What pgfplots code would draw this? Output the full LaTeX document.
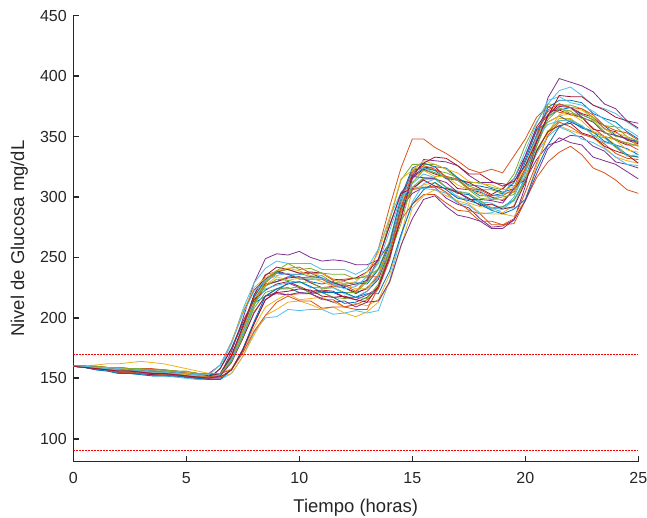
\documentclass[border=0pt]{standalone}
\usepackage{pgfplots}
\usepackage{pgfplotstable}
\pgfplotsset{compat=1.18}
\usepackage{fontspec}
\setmainfont{Liberation Sans}
\definecolor{c1}{rgb}{0,0.447,0.741}
\definecolor{c2}{rgb}{0.85,0.325,0.098}
\definecolor{c3}{rgb}{0.929,0.694,0.125}
\definecolor{c4}{rgb}{0.494,0.184,0.556}
\definecolor{c5}{rgb}{0.466,0.674,0.188}
\definecolor{c6}{rgb}{0.301,0.745,0.933}
\definecolor{c7}{rgb}{0.635,0.078,0.184}
\definecolor{axc}{rgb}{0.15,0.15,0.15}

% one row per simulated patient, one column per time (hours)
\pgfplotstableread{
name 0 0.5 1 1.5 2 2.5 3 3.5 4 4.5 5 5.5 6 6.5 7 7.5 8 8.5 9 9.5 10 10.5 11 11.5 12 12.5 13 13.5 14 14.5 15 15.5 16 16.5 17 17.5 18 18.5 19 19.5 20 20.5 21 21.5 22 22.5 23 23.5 24 24.5 25
T1 160 159 158 157 156 156 155 154 154 153 152 151 150 152 166 188 213 227 230 234 234 230 228 230 225 220 225 234 256 290 306 315 315 308 303 302 295 290 292 297 316 342 367 372 374 368 364 359 351 348 346
T2 160 160 159 159 158 158 157 157 156 156 155 154 153 154 168 191 215 229 237 236 232 232 232 227 227 222 232 257 292 324 348 348 341 336 330 323 320 323 320 334 348 366 375 370 369 366 357 350 348 344 339
T3 160 160 161 162 162 163 164 163 162 160 158 156 154 154 158 172 192 209 215 220 215 216 217 213 209 212 210 215 236 268 306 310 312 303 301 295 292 291 287 293 314 337 354 365 365 358 353 350 343 335 333
T4 160 160 159 158 157 157 156 155 155 154 153 152 151 153 172 199 229 249 253 252 255 250 247 248 247 244 244 248 262 291 303 308 308 299 294 291 282 275 276 281 309 347 382 398 395 392 387 377 373 363 361
T5 160 160 159 159 158 158 157 157 156 155 155 153 153 154 169 192 218 230 238 240 237 234 235 229 230 227 230 241 264 299 323 325 322 320 316 309 306 306 303 304 324 350 366 374 369 368 364 357 350 349 342
T6 160 159 157 156 154 154 153 152 152 151 150 149 149 149 154 168 188 200 201 207 206 207 207 203 204 206 204 206 231 267 296 311 315 308 300 298 296 290 291 291 319 352 377 388 391 384 376 373 369 362 356
T7 160 160 159 158 157 157 156 155 155 155 154 152 151 153 166 188 213 228 230 233 234 229 225 226 225 221 224 236 261 292 316 323 319 316 307 306 304 300 297 305 321 345 368 377 374 369 366 356 354 347 344
T8 160 159 158 157 155 155 154 153 153 152 151 150 150 158 174 195 212 218 224 225 221 220 221 217 212 213 217 226 257 289 317 324 322 315 314 307 301 301 303 312 331 355 362 367 362 358 354 346 343 340 335
T9 160 160 158 158 157 156 156 156 155 154 154 152 151 153 164 183 205 218 221 219 220 220 215 215 209 211 215 224 248 287 306 308 309 304 296 289 286 277 277 278 297 316 329 337 342 335 324 320 314 306 303
T10 160 159 158 158 157 156 156 155 155 154 153 152 151 153 167 190 214 227 234 231 233 233 230 226 228 224 224 236 263 294 315 322 317 317 310 306 303 298 298 305 317 336 355 359 355 352 349 341 333 330 328
T11 160 159 158 157 155 154 154 153 153 152 151 150 150 150 157 174 196 215 222 229 225 221 222 221 217 215 219 225 250 282 315 331 330 329 326 318 312 312 311 309 314 331 343 346 351 350 342 338 329 327 324
T12 160 159 158 157 156 156 155 154 154 154 152 151 150 152 165 188 212 226 232 231 229 230 224 225 221 221 230 247 281 314 327 327 327 323 315 312 312 308 306 319 343 362 377 376 376 373 366 359 358 350 346
T13 160 159 158 157 155 155 154 154 153 152 151 150 150 158 179 207 229 241 247 245 245 245 240 240 240 236 241 257 283 304 311 319 316 308 305 303 296 295 290 297 314 336 350 358 354 348 345 340 333 327 326
T14 160 159 158 157 155 155 154 153 153 153 151 151 150 158 175 197 215 223 228 230 226 222 223 222 217 217 222 232 257 296 322 324 325 316 314 312 307 302 307 315 334 358 371 372 368 366 356 354 347 343 343
T15 160 160 159 159 158 158 157 157 156 156 155 154 153 154 168 192 217 232 238 236 236 237 233 228 228 229 228 240 262 300 324 328 325 324 316 310 309 307 304 307 329 351 374 380 380 378 369 365 362 354 348
T16 160 159 158 157 155 155 154 154 153 152 151 150 150 151 167 192 219 236 238 241 242 237 237 231 232 233 234 234 257 281 294 302 302 295 289 288 280 280 277 282 304 328 351 362 358 352 349 344 336 332 331
T17 160 159 158 157 156 156 155 154 154 153 152 152 151 151 154 168 186 202 207 213 214 211 207 209 204 201 205 213 229 259 291 301 306 301 297 294 287 286 286 284 297 326 353 368 372 372 365 356 353 350 342
T18 160 160 160 159 159 158 158 157 157 156 155 154 154 161 180 204 223 232 239 236 233 234 233 229 226 228 231 249 276 303 317 316 315 312 304 298 298 297 295 307 334 356 368 375 374 366 362 353 351 348 345
T19 160 160 159 158 157 156 156 156 155 155 154 153 152 153 165 185 208 221 224 224 226 220 221 217 216 217 216 228 256 288 308 316 316 308 304 303 297 291 292 298 313 339 354 363 364 359 351 349 341 334 333
T20 160 159 159 158 157 157 156 155 155 154 154 153 152 153 166 187 211 224 227 229 230 225 225 225 220 217 222 234 258 295 321 324 320 317 314 307 305 298 302 315 338 361 380 383 378 376 371 364 358 356 350
T21 160 160 159 159 158 157 157 156 156 155 155 154 152 154 169 193 219 235 242 240 237 238 237 232 231 233 238 248 277 303 307 314 309 307 304 299 293 294 290 292 312 338 354 359 361 353 350 342 338 335 328
T22 160 159 157 156 154 154 153 152 152 152 151 150 149 149 157 174 197 218 224 228 230 226 221 221 221 217 220 220 239 269 294 306 312 306 299 297 294 289 286 290 298 323 343 358 363 357 354 350 342 335 333
T23 160 160 160 159 159 158 158 158 157 156 155 154 154 154 157 171 189 202 213 218 214 214 208 209 209 207 207 225 253 290 320 326 323 317 315 307 306 301 301 307 323 351 372 377 374 373 368 359 355 353 347
T24 160 160 159 159 158 158 157 157 156 156 155 154 153 161 180 205 225 233 239 241 239 235 237 232 228 230 238 254 283 315 322 330 327 323 320 313 311 310 306 308 326 349 362 367 369 363 354 350 347 339 337
T25 160 159 158 157 156 156 155 154 154 153 152 151 150 152 163 183 204 218 220 219 221 220 216 213 214 209 213 214 230 260 282 298 301 292 285 283 280 274 274 281 297 319 340 349 345 343 333 330 327 321 315
T26 160 160 160 159 159 158 158 157 157 156 156 154 154 154 164 184 210 231 239 245 240 241 237 236 236 232 235 240 252 278 312 322 320 316 314 306 299 298 300 302 321 342 364 373 371 365 363 354 347 345 342
T27 160 160 159 159 158 157 157 156 156 155 154 153 153 161 179 203 222 231 235 237 233 233 233 228 224 226 234 245 272 300 308 307 306 303 295 293 286 287 290 300 321 349 360 363 363 359 351 345 343 334 335
T28 160 159 158 157 156 156 155 154 154 153 152 151 151 151 157 173 195 215 221 222 224 223 218 217 218 215 213 226 251 283 318 328 333 332 326 319 319 313 309 313 326 346 367 384 383 383 376 372 366 363 357
}\raw
\pgfplotstabletranspose[colnames from=name]\data\raw

\begin{document}
\begin{tikzpicture}
\begin{axis}[
  at={(0,0)}, anchor=south west,
  scale only axis, width=565pt, height=446pt,
  xmin=0, xmax=25, ymin=81, ymax=450,
  axis lines*=left,
  axis line style={-, draw=axc, line width=1.6pt},
  xtick={0,5,...,25}, ytick={100,150,...,450},
  tick align=inside, major tick length=6pt,
  tick style={draw=axc, line width=1.6pt},
  /pgf/number format/assume math mode=true,
  ticklabel style={font=\fontsize{16}{19}\selectfont, text=axc},
  xticklabel style={yshift=-7pt},
  yticklabel style={xshift=-3pt},
  label style={font=\fontsize{18.5}{22}\selectfont, text=axc},
  xlabel={Tiempo (horas)},
  ylabel={Nivel de Glucosa mg/dL},
  xlabel style={at={(axis description cs:0.5,-0.1038)}, anchor=center},
  ylabel style={at={(axis description cs:-0.0956,0.5)}, anchor=center},
  every axis plot/.append style={line width=0.8pt},
]
\addplot[c1] table[x=colnames,y=T1]{\data};
\addplot[c2] table[x=colnames,y=T2]{\data};
\addplot[c3] table[x=colnames,y=T3]{\data};
\addplot[c4] table[x=colnames,y=T4]{\data};
\addplot[c5] table[x=colnames,y=T5]{\data};
\addplot[c6] table[x=colnames,y=T6]{\data};
\addplot[c7] table[x=colnames,y=T7]{\data};
\addplot[c1] table[x=colnames,y=T8]{\data};
\addplot[c2] table[x=colnames,y=T9]{\data};
\addplot[c3] table[x=colnames,y=T10]{\data};
\addplot[c4] table[x=colnames,y=T11]{\data};
\addplot[c5] table[x=colnames,y=T12]{\data};
\addplot[c6] table[x=colnames,y=T13]{\data};
\addplot[c7] table[x=colnames,y=T14]{\data};
\addplot[c1] table[x=colnames,y=T15]{\data};
\addplot[c2] table[x=colnames,y=T16]{\data};
\addplot[c3] table[x=colnames,y=T17]{\data};
\addplot[c4] table[x=colnames,y=T18]{\data};
\addplot[c5] table[x=colnames,y=T19]{\data};
\addplot[c6] table[x=colnames,y=T20]{\data};
\addplot[c7] table[x=colnames,y=T21]{\data};
\addplot[c1] table[x=colnames,y=T22]{\data};
\addplot[c2] table[x=colnames,y=T23]{\data};
\addplot[c3] table[x=colnames,y=T24]{\data};
\addplot[c4] table[x=colnames,y=T25]{\data};
\addplot[c5] table[x=colnames,y=T26]{\data};
\addplot[c6] table[x=colnames,y=T27]{\data};
\addplot[c7] table[x=colnames,y=T28]{\data};
\addplot[red, line width=1.2pt, dash pattern=on 1.2pt off 1.8pt] coordinates {(0,170) (25,170)};
\addplot[red, line width=1.2pt, dash pattern=on 1.2pt off 1.8pt] coordinates {(0,90) (25,90)};
\end{axis}
\pgfresetboundingbox
\path[use as bounding box] (-73.3pt,-56.3pt) rectangle (573.7pt,461.7pt);
\end{tikzpicture}
\end{document}
